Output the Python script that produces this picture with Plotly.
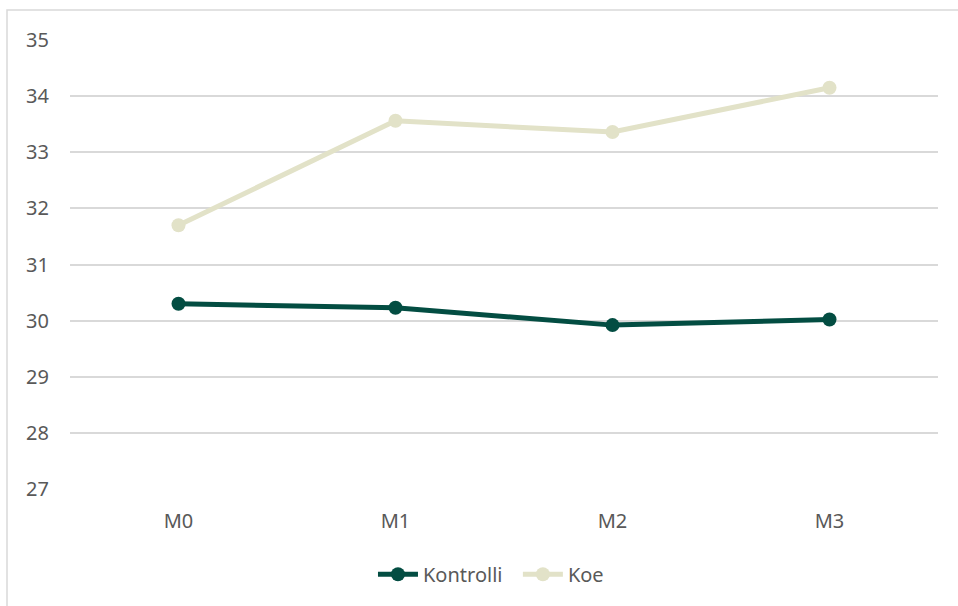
import plotly.graph_objects as go

categories = ["M0", "M1", "M2", "M3"]
kontrolli = [30.30, 30.23, 29.92, 30.02]
koe = [31.70, 33.56, 33.36, 34.15]
y_ticks = [27, 28, 29, 30, 31, 32, 33, 34, 35]

fig = go.Figure()
fig.add_trace(go.Scatter(
    x=categories, y=kontrolli, name="Kontrolli  ", mode="lines+markers",
    line=dict(color="#034D42", width=5), marker=dict(size=14, color="#034D42"),
))
fig.add_trace(go.Scatter(
    x=categories, y=koe, name="Koe", mode="lines+markers",
    line=dict(color="#E2E2C8", width=5), marker=dict(size=14, color="#E2E2C8"),
))

fig.update_layout(
    width=958, height=606,
    margin=dict(l=70, r=20, t=40, b=117),
    paper_bgcolor="white", plot_bgcolor="white",
    font=dict(family="Noto Sans", size=20, color="#595959"),
    showlegend=True,
    legend=dict(orientation="h", x=0.485, xanchor="center", y=-0.19, yanchor="middle",
                font=dict(size=20, color="#595959"), itemwidth=40),
    xaxis=dict(type="category", range=[-0.5, 3.5], showgrid=False, showline=False,
               ticks="", ticklabelstandoff=18, tickfont=dict(size=20, color="#595959")),
    yaxis=dict(range=[27, 35], tickvals=y_ticks, showgrid=True, gridcolor="#D9D9D9",
               gridwidth=1.5, zeroline=False, showline=False, ticks="",
               ticklabelstandoff=20, tickfont=dict(size=20, color="#595959")),
    shapes=[dict(type="rect", xref="paper", yref="paper",
                 x0=(7 - 70) / 868, x1=(965 - 70) / 868,
                 y0=(489 - 615) / 449, y1=(489 - 10) / 449,
                 line=dict(color="#D9D9D9", width=1.5), layer="below")],
)

fig.write_html("out.html")
